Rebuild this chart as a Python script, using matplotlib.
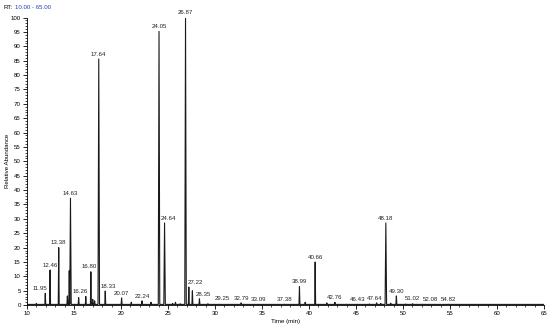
import numpy as np
import matplotlib
matplotlib.use("Agg")
import matplotlib.pyplot as plt
from matplotlib.ticker import MultipleLocator

# ---------- DATA ----------
# labelled peaks: retention time (min), relative abundance (%)
label_rt = [11.95, 12.46, 13.38, 14.63, 16.26, 16.80, 17.64, 18.33, 20.07, 22.24,
            24.05, 24.64, 26.87, 27.22, 28.35, 29.25, 32.79, 33.09, 37.38, 38.99,
            40.66, 42.76, 46.43, 47.64, 48.18, 49.30, 51.02, 52.08, 54.82]
label_h = [4.1, 12.2, 20.0, 37.2, 3.0, 11.6, 85.6, 4.9, 2.5, 1.5,
           95.2, 28.6, 100.0, 6.3, 2.2, 0.5, 0.8, 0.3, 0.3, 6.4,
           15.0, 1.0, 0.4, 0.6, 28.6, 3.2, 0.5, 0.3, 0.3]

# small unlabelled peaks
minor_rt = [11.0, 14.3, 14.5, 15.5, 17.0, 17.2, 21.1, 23.2, 25.5, 25.8,
            26.3, 27.6, 30.5, 39.6, 41.9, 44.0, 47.2, 48.7, 50.3]
minor_h = [0.6, 3.2, 12.0, 2.6, 2.0, 1.5, 1.0, 1.0, 0.6, 1.0,
           0.5, 5.0, 0.3, 1.0, 0.8, 0.3, 0.8, 0.7, 0.4]

rt_range = (10, 65)
base = 0.25

# label nudges (pixels) so neighbouring labels do not collide
label_dx = {11.95: -5, 16.26: -6, 16.80: -2, 18.33: 3, 24.64: 4, 27.22: 7,
            28.35: 4, 29.25: 14, 33.09: 14, 46.43: -12, 47.64: -6, 52.08: 8}

# ---------- BUILD TRACE ----------
peaks = sorted(zip(label_rt + minor_rt, label_h + minor_h))
tx = [rt_range[0]]
ty = [base]
for rt, h in peaks:
    w = 0.08 if h > 20 else 0.05
    tx += [rt - w, rt, rt + w]
    ty += [base, h, base]
tx.append(rt_range[1])
ty.append(base)

plt.rcParams['font.family'] = ['Liberation Sans', 'DejaVu Sans']
fs = 4.4

fig = plt.figure(figsize=(5.5, 3.26), dpi=100)
ax = fig.add_axes([0.049, 0.064, 0.94, 0.882])
ax.plot(tx, ty, color="#1a1a1a", lw=0.8)

for rt, h in zip(label_rt, label_h):
    ax.annotate(f"{rt:.2f}", (rt, h + 0.8), xytext=(label_dx.get(rt, 0), 0),
                textcoords="offset pixels", ha="center", va="bottom",
                fontsize=fs, color="#222222", annotation_clip=False)

ax.set_xlim(*rt_range)
ax.set_ylim(0, 100)
ax.xaxis.set_major_locator(MultipleLocator(5))
ax.xaxis.set_minor_locator(MultipleLocator(1))
ax.yaxis.set_major_locator(MultipleLocator(5))
ax.yaxis.set_minor_locator(MultipleLocator(1))
ax.tick_params(axis="both", which="major", labelsize=fs, length=3, width=0.6, pad=1.5)
ax.tick_params(axis="both", which="minor", length=1.5, width=0.5)
for s in ["top", "right"]:
    ax.spines[s].set_visible(False)
for s in ["left", "bottom"]:
    ax.spines[s].set_linewidth(0.6)

ax.set_xlabel("Time (min)", fontsize=fs, labelpad=2)
ax.set_ylabel("Relative Abundance", fontsize=fs, labelpad=1)
ax.yaxis.set_label_coords(-0.033, 0.5)

fig.text(0.006, 0.977, "RT:", fontsize=fs, color="black", va="center")
fig.text(0.027, 0.977, "10.00 - 65.00", fontsize=fs, color="#1f3fbf", va="center")

fig.savefig("out.png", dpi=100)
